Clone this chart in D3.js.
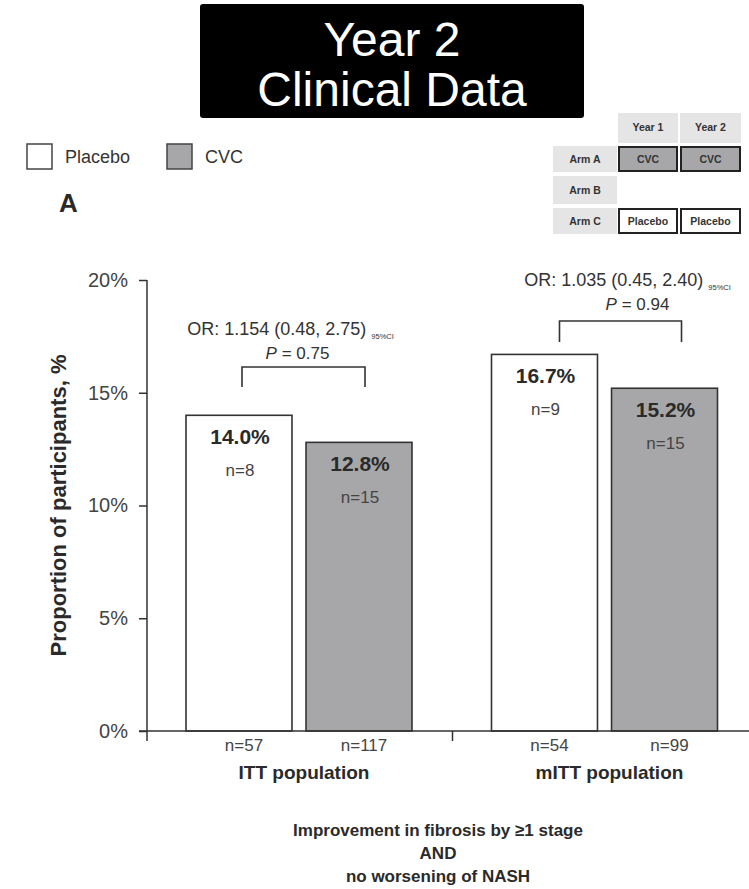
<!DOCTYPE html>
<html>
<head>
<meta charset="utf-8">
<script src="https://cdn.jsdelivr.net/npm/d3@7"></script>
<style>
  html, body { margin: 0; padding: 0; background: #fff; }
  svg { display: block; font-family: "Liberation Sans", Arial, sans-serif; }
</style>
</head>
<body>
<svg id="chart" width="749" height="889"></svg>
<script>
// ---- data ----
const groups = ["ITT population", "mITT population"];
const seriesNames = ["Placebo", "CVC"];
const placeboPct = [14.0, 16.7];
const cvcPct = [12.8, 15.2];
const placeboResponders = [8, 9];
const cvcResponders = [15, 15];
const placeboTotal = [57, 54];
const cvcTotal = [117, 99];
const oddsRatio = [1.154, 1.035];
const ciLow = [0.48, 0.45];
const ciHigh = [2.75, 2.40];
const pValues = [0.75, 0.94];
const yTicks = [0, 5, 10, 15, 20];
const captionLines = ["Improvement in fibrosis by \u22651 stage", "AND", "no worsening of NASH"];
const armRows = ["Arm A", "Arm B", "Arm C"];
const armYears = ["Year 1", "Year 2"];
const armTreatment = [["CVC", "CVC"], [null, null], ["Placebo", "Placebo"]];

// ---- styles ----
const fillBySeries = { Placebo: "#ffffff", CVC: "#a7a7a9" };
const ink = "#2a2a2a";
const soft = "#444";

const svg = d3.select("#chart");
svg.append("rect").attr("width", 749).attr("height", 889).attr("fill", "#fff");

// ---- title banner ----
const banner = svg.append("g");
banner.append("rect").attr("x", 200).attr("y", 4).attr("width", 384).attr("height", 114)
  .attr("rx", 3).attr("fill", "#000");
banner.selectAll("text").data(["Year 2", "Clinical Data"]).join("text")
  .attr("x", 392).attr("y", (d, i) => 56 + i * 50)
  .attr("text-anchor", "middle").attr("fill", "#fff")
  .attr("font-size", 48).text(d => d);

// ---- legend ----
const legend = svg.append("g");
const legendItems = legend.selectAll("g").data(seriesNames).join("g")
  .attr("transform", (d, i) => `translate(${27 + i * 140},144)`);
legendItems.append("rect").attr("width", 25).attr("height", 25)
  .attr("fill", d => fillBySeries[d]).attr("stroke", soft).attr("stroke-width", 1.5);
legendItems.append("text").attr("x", 38).attr("y", 19)
  .attr("font-size", 18).attr("fill", "#333").text(d => d);

svg.append("text").attr("x", 59).attr("y", 212).attr("font-size", 26)
  .attr("font-weight", "bold").attr("fill", ink).text("A");

// ---- arm schedule table ----
const table = svg.append("g");
const colX = [553, 618, 680];
const colW = [64, 60, 61];
const rowY = [146, 176, 208];
const rowH = [26, 28, 26];
const cellGray = "#e5e5e5";
const cellFont = 10.5;
armYears.forEach((yr, j) => {
  table.append("rect").attr("x", colX[j + 1]).attr("y", 113).attr("width", colW[j + 1]).attr("height", 30).attr("fill", cellGray);
  table.append("text").attr("x", colX[j + 1] + colW[j + 1] / 2).attr("y", 131)
    .attr("text-anchor", "middle").attr("font-size", cellFont).attr("font-weight", "bold").attr("fill", "#333").text(yr);
});
armRows.forEach((arm, i) => {
  table.append("rect").attr("x", colX[0]).attr("y", rowY[i]).attr("width", colW[0]).attr("height", rowH[i]).attr("fill", cellGray);
  table.append("text").attr("x", colX[0] + colW[0] / 2).attr("y", rowY[i] + rowH[i] / 2 + 4)
    .attr("text-anchor", "middle").attr("font-size", cellFont).attr("font-weight", "bold").attr("fill", "#333").text(arm);
  armTreatment[i].forEach((t, j) => {
    if (!t) return;
    table.append("rect").attr("x", colX[j + 1] + 1).attr("y", rowY[i] + 1)
      .attr("width", colW[j + 1] - 2).attr("height", rowH[i] - 2)
      .attr("fill", fillBySeries[t]).attr("stroke", "#222").attr("stroke-width", 2);
    table.append("text").attr("x", colX[j + 1] + colW[j + 1] / 2).attr("y", rowY[i] + rowH[i] / 2 + 4)
      .attr("text-anchor", "middle").attr("font-size", cellFont).attr("font-weight", "bold").attr("fill", "#333").text(t);
  });
});

// ---- scales ----
const y = d3.scaleLinear().domain([0, 20]).range([731, 280]);
const x0 = d3.scaleBand().domain(groups).range([147, 758]).padding(0);
const x1 = d3.scaleBand().domain(seriesNames).range([39, 265]).paddingInner(0.117).paddingOuter(0);

const bars = groups.flatMap((g, i) => [
  { group: g, series: "Placebo", value: placeboPct[i], n: placeboResponders[i], total: placeboTotal[i] },
  { group: g, series: "CVC", value: cvcPct[i], n: cvcResponders[i], total: cvcTotal[i] }
]);
const barX = d => x0(d.group) + x1(d.series);
const barCx = d => barX(d) + x1.bandwidth() / 2;

// ---- y axis ----
const yAxis = svg.append("g").attr("transform", `translate(${x0.range()[0]},0)`)
  .call(d3.axisLeft(y).tickValues(yTicks).tickFormat(d => d + "%").tickSize(8).tickSizeOuter(0).tickPadding(11));
yAxis.select(".domain").remove();
yAxis.selectAll(".tick line").attr("stroke", "#333").attr("stroke-width", 1.5);
yAxis.selectAll(".tick text").attr("font-size", 20).attr("fill", soft)
  .attr("font-family", "Liberation Sans, Arial, sans-serif");
svg.append("line").attr("x1", x0.range()[0]).attr("x2", x0.range()[0])
  .attr("y1", y(20)).attr("y2", y(0) + 10).attr("stroke", "#333").attr("stroke-width", 1.5);

svg.append("text")
  .attr("transform", `translate(66,${(y(0) + y(20)) / 2}) rotate(-90)`)
  .attr("text-anchor", "middle").attr("font-size", 22).attr("font-weight", "bold").attr("fill", ink)
  .text("Proportion of participants, %");

// ---- bars ----
svg.append("g").selectAll("rect").data(bars).join("rect")
  .attr("x", barX).attr("width", x1.bandwidth())
  .attr("y", d => y(d.value)).attr("height", d => y(0) - y(d.value))
  .attr("fill", d => fillBySeries[d.series]).attr("stroke", "#333").attr("stroke-width", 1.6);

// ---- x axis ----
svg.append("line").attr("x1", x0.range()[0] - 8).attr("x2", 749)
  .attr("y1", y(0)).attr("y2", y(0)).attr("stroke", "#333").attr("stroke-width", 1.5);
svg.append("line").attr("x1", x0(groups[1])).attr("x2", x0(groups[1]))
  .attr("y1", y(0)).attr("y2", y(0) + 10).attr("stroke", "#333").attr("stroke-width", 1.5);

// value and responder labels inside bars
const labels = svg.append("g");
labels.selectAll(".val").data(bars).join("text").attr("class", "val")
  .attr("x", d => barCx(d) + 1).attr("y", d => y(d.value) + 29)
  .attr("text-anchor", "middle").attr("font-size", 21).attr("font-weight", "bold").attr("fill", ink)
  .text(d => d.value.toFixed(1) + "%");
labels.selectAll(".resp").data(bars).join("text").attr("class", "resp")
  .attr("x", d => barCx(d) + 1).attr("y", d => y(d.value) + 61)
  .attr("text-anchor", "middle").attr("font-size", 17).attr("fill", soft)
  .text(d => "n=" + d.n);

// totals under the axis
labels.selectAll(".tot").data(bars).join("text").attr("class", "tot")
  .attr("x", d => barCx(d) + 5).attr("y", y(0) + 20)
  .attr("text-anchor", "middle").attr("font-size", 17).attr("fill", soft)
  .text(d => "n=" + d.total);

// group names
svg.append("g").selectAll("text").data(groups).join("text")
  .attr("x", d => x0(d) + (x1.range()[0] + x1.range()[1]) / 2 + 5).attr("y", y(0) + 48)
  .attr("text-anchor", "middle").attr("font-size", 19).attr("font-weight", "bold").attr("fill", ink)
  .text(d => d);

// ---- comparison brackets ----
const bracketLayout = [
  { dxL: 3, dxR: 6, top: 367, leg: 20, orY: 335, pY: 359, orDx: -13, pDx: -6 },
  { dxL: 15, dxR: 17, top: 321, leg: 21, orY: 286, pY: 310, orDx: 7, pDx: 17 }
];
groups.forEach((g, i) => {
  const L = bracketLayout[i];
  const pb = bars.find(b => b.group === g && b.series === "Placebo");
  const cb = bars.find(b => b.group === g && b.series === "CVC");
  const xl = barCx(pb) + L.dxL, xr = barCx(cb) + L.dxR;
  const cx = (xl + xr) / 2;
  svg.append("path")
    .attr("d", `M${xl},${L.top + L.leg}V${L.top}H${xr}V${L.top + L.leg}`)
    .attr("fill", "none").attr("stroke", "#333").attr("stroke-width", 1.6);
  const orText = svg.append("text").attr("x", cx + L.orDx).attr("y", L.orY)
    .attr("text-anchor", "middle").attr("font-size", 18).attr("fill", "#333");
  orText.append("tspan").text(`OR: ${oddsRatio[i].toFixed(3)} (${ciLow[i].toFixed(2)}, ${ciHigh[i].toFixed(2)}) `);
  orText.append("tspan").attr("font-size", 7.5).attr("dy", 4).text("95%CI");
  const pText = svg.append("text").attr("x", cx + L.pDx).attr("y", L.pY)
    .attr("text-anchor", "middle").attr("font-size", 17).attr("fill", "#333");
  pText.append("tspan").attr("font-style", "italic").text("P");
  pText.append("tspan").text(" = " + pValues[i].toFixed(2));
});

// ---- endpoint caption ----
svg.append("g").selectAll("text").data(captionLines).join("text")
  .attr("x", 438).attr("y", (d, i) => 836 + i * 23)
  .attr("text-anchor", "middle").attr("font-size", 17).attr("font-weight", "bold").attr("fill", ink)
  .text(d => d);
</script>
</body>
</html>
